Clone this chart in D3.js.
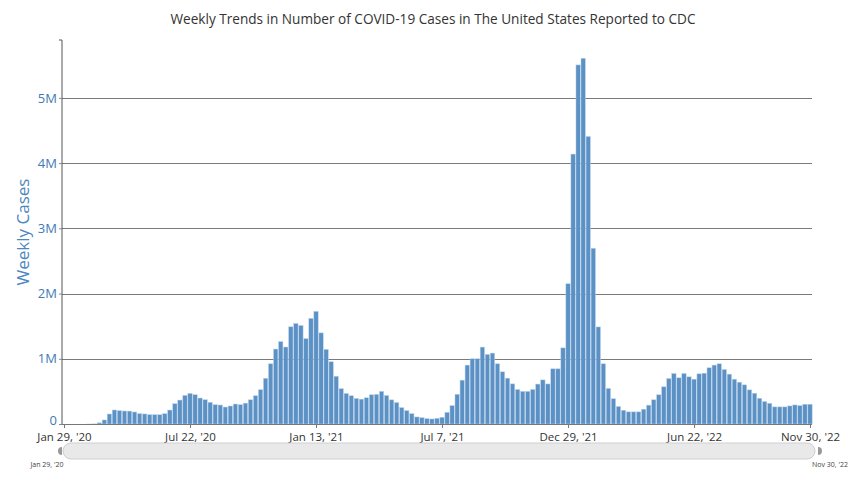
<!DOCTYPE html>
<html>
<head>
<meta charset="utf-8">
<script src="https://cdn.jsdelivr.net/npm/d3@7"></script>
<style>
  html, body { margin: 0; padding: 0; background: #fff; }
  svg { display: block; font-family: "Open Sans", "Noto Sans", sans-serif; }
</style>
</head>
<body>
<svg id="chart" width="865" height="478"></svg>
<script>
// ---- data ----
const titleText = "Weekly Trends in Number of COVID-19 Cases in The United States Reported to CDC";
const yAxisTitle = "Weekly Cases";
const startDate = "2020-01-29";
const weeklyCases = [
  0, 0, 0, 0, 0, 100, 1500, 18000, 62000, 153000,
  215000, 204000, 199000, 198000, 184000, 158000, 154000, 143000, 143000, 142000,
  158000, 214000, 311000, 367000, 439000, 469000, 449000, 398000, 372000, 332000,
  296000, 291000, 260000, 276000, 306000, 296000, 320000, 371000, 433000, 526000,
  701000, 923000, 1149000, 1263000, 1180000, 1490000, 1541000, 1510000, 1309000, 1619000,
  1727000, 1397000, 1144000, 954000, 732000, 541000, 469000, 433000, 392000, 381000,
  402000, 448000, 454000, 500000, 437000, 370000, 328000, 251000, 205000, 159000,
  108000, 97000, 82000, 77000, 87000, 103000, 179000, 282000, 456000, 672000,
  903000, 1000000, 1000000, 1179000, 1067000, 1087000, 923000, 800000, 703000, 615000,
  528000, 500000, 500000, 530000, 612000, 676000, 614000, 846000, 846000, 1167000,
  2150000, 4138000, 5505000, 5607000, 4408000, 2694000, 1488000, 923000, 546000, 387000,
  268000, 211000, 186000, 186000, 186000, 227000, 289000, 371000, 448000, 570000,
  697000, 774000, 708000, 774000, 723000, 687000, 769000, 779000, 862000, 903000,
  923000, 836000, 764000, 687000, 641000, 600000, 523000, 472000, 395000, 344000,
  318000, 262000, 262000, 262000, 277000, 292000, 282000, 303000, 303000
];
const tickDates = ["2020-01-29", "2020-07-22", "2021-01-13", "2021-07-07", "2021-12-29", "2022-06-22", "2022-11-30"];
const tickLabels = ["Jan 29, '20", "Jul 22, '20", "Jan 13, '21", "Jul 7, '21", "Dec 29, '21", "Jun 22, '22", "Nov 30, '22"];
const yTicks = [0, 1000000, 2000000, 3000000, 4000000, 5000000];
const rangeLabels = ["Jan 29, '20", "Nov 30, '22"];

// ---- build ----
const parse = d3.utcParse("%Y-%m-%d");
const t0 = parse(startDate);
const weeks = weeklyCases.map((v, i) => ({ date: d3.utcDay.offset(t0, 7 * i), value: v }));
const lastDate = weeks[weeks.length - 1].date;

const svg = d3.select("#chart");
const axisX = 62, plotRight = 812, baseY = 424;

const x = d3.scaleUtc().domain([t0, lastDate]).range([64, 810]);
const y = d3.scaleLinear().domain([0, d3.max(weeklyCases) * 1.05]).range([baseY, 40]);
const step = x(weeks[1].date) - x(weeks[0].date);
const barW = step * 0.86;

// title
svg.append("text")
  .attr("x", 433).attr("y", 24)
  .attr("text-anchor", "middle")
  .attr("font-size", 13.6)
  .attr("fill", "#333")
  .text(titleText);

// gridlines
svg.append("g").selectAll("line")
  .data(yTicks.filter(d => d > 0))
  .join("line")
  .attr("x1", axisX).attr("x2", plotRight)
  .attr("y1", d => Math.round(y(d)) + 0.5).attr("y2", d => Math.round(y(d)) + 0.5)
  .attr("stroke", "#7a7a7a").attr("stroke-width", 1);

// bars
svg.append("defs").append("clipPath").attr("id", "plotclip")
  .append("rect").attr("x", axisX).attr("y", 30).attr("width", plotRight - axisX + 1).attr("height", baseY - 30);

svg.append("g").attr("clip-path", "url(#plotclip)")
  .selectAll("rect")
  .data(weeks)
  .join("rect")
  .attr("x", d => x(d.date) - barW / 2)
  .attr("width", barW)
  .attr("y", d => y(d.value))
  .attr("height", d => baseY - y(d.value))
  .attr("fill", "#5b91c4")
  .attr("stroke", "#b9d1ea")
  .attr("stroke-width", 0.5);

// y axis
const yAxis = d3.axisLeft(y).tickValues(yTicks)
  .tickFormat(d => d === 0 ? "0" : d3.format("~s")(d))
  .tickSize(3).tickPadding(2);
const gy = svg.append("g").attr("transform", `translate(${axisX},0)`).call(yAxis);
gy.select(".domain").attr("stroke", "#555").attr("d", `M-3,${y.range()[1]}H0V${baseY}`);
gy.selectAll(".tick line").attr("stroke", "#888");
gy.selectAll(".tick text").attr("fill", "#3f7ab4").attr("font-size", 13).attr("font-family", "'Open Sans', sans-serif");
gy.selectAll(".tick").filter(d => d === 0).select("text").attr("dy", "0.02em");

// x axis
const xAxis = d3.axisBottom(x).tickValues(tickDates.map(parse))
  .tickFormat((d, i) => tickLabels[i]).tickSize(4).tickPadding(5);
const gx = svg.append("g").attr("transform", `translate(0,${baseY})`).call(xAxis);
gx.select(".domain").attr("stroke", "#777").attr("d", `M${axisX},0.5H${plotRight}`);
gx.selectAll(".tick line").attr("stroke", "#777");
gx.selectAll(".tick text").attr("fill", "#333").attr("font-size", 11.5).attr("font-family", "'Open Sans', sans-serif");

// y axis title
svg.append("text")
  .attr("transform", `translate(29,232) rotate(-90)`)
  .attr("text-anchor", "middle")
  .attr("font-size", 17)
  .attr("fill", "#4a86c0")
  .text(yAxisTitle);

// scrollbar / range slider
svg.append("rect")
  .attr("x", 63).attr("y", 443).attr("width", 752).attr("height", 16)
  .attr("rx", 8).attr("ry", 8)
  .attr("fill", "#e9e9e9").attr("stroke", "#cfcfcf").attr("stroke-width", 1);
svg.append("path").attr("d", "M62,447 a4,4 0 0 0 0,8 z").attr("fill", "#999");
svg.append("path").attr("d", "M818,447 a4,4 0 0 1 0,8 z").attr("fill", "#999");
svg.append("text").attr("x", 47).attr("y", 467).attr("text-anchor", "middle")
  .attr("font-size", 7).attr("fill", "#444").text(rangeLabels[0]);
svg.append("text").attr("x", 830).attr("y", 467).attr("text-anchor", "middle")
  .attr("font-size", 7).attr("fill", "#444").text(rangeLabels[1]);
</script>
</body>
</html>
